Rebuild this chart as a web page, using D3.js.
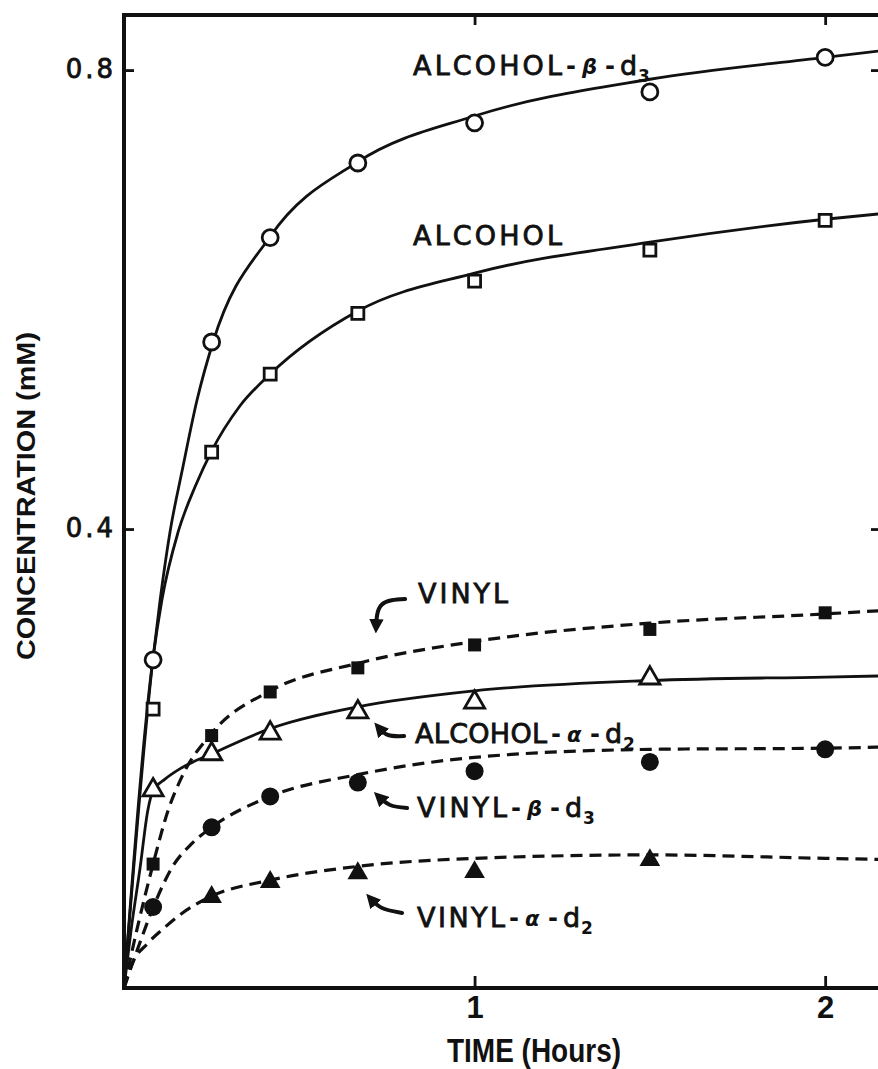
<!DOCTYPE html>
<html>
<head>
<meta charset="utf-8">
<script src="https://cdn.jsdelivr.net/npm/d3@7"></script>
<style>
  body { margin: 0; background: #fff; overflow: hidden; }
  svg { display: block; }
</style>
</head>
<body>
<script>
// measured points (hours, mM)
const times = [0.083, 0.25, 0.417, 0.667, 1, 1.5, 2];
const alcoholBetaD3 = [0.286, 0.563, 0.654, 0.719, 0.754, 0.781, 0.811];
const alcohol = [0.243, 0.467, 0.535, 0.588, 0.616, 0.643, 0.669];
const vinyl = [0.108, 0.220, 0.258, 0.279, 0.299, 0.3125, 0.327];
const vinylBetaD3 = [0.0706, 0.140, 0.167, 0.179, 0.189, 0.197, 0.208];
const alcAlphaTimes = [0.083, 0.25, 0.417, 0.667, 1, 1.5];
const alcoholAlphaD2 = [0.1725, 0.204, 0.222, 0.2405, 0.249, 0.270];
const vinAlphaTimes = [0.25, 0.417, 0.667, 1, 1.5];
const vinylAlphaD2 = [0.0793, 0.0924, 0.100, 0.101, 0.1115];

// hand-drawn fit curves
const alcoholBetaFit = [[0,0],[0.083,0.288],[0.103,0.338],[0.131,0.397],[0.168,0.454],[0.208,0.512],[0.254,0.563],[0.417,0.655],[0.667,0.72],[1,0.76],[1.5,0.792],[2,0.811],[2.165,0.817]];
const alcoholFit = [[0,0],[0.083,0.288],[0.108,0.338],[0.154,0.397],[0.203,0.437],[0.25,0.468],[0.33,0.507],[0.417,0.535],[0.667,0.59],[1,0.623],[1.5,0.65],[2,0.67],[2.165,0.675]];
const alcoholAlphaFit = [[0,0],[0.02,0.05],[0.046,0.105],[0.068,0.155],[0.083,0.172],[0.117,0.182],[0.165,0.192],[0.25,0.204],[0.417,0.226],[0.667,0.245],[1,0.259],[1.5,0.268],[2,0.271],[2.165,0.272]];
const vinylFit = [[0,0],[0.04,0.055],[0.083,0.108],[0.126,0.155],[0.165,0.184],[0.25,0.222],[0.417,0.259],[0.667,0.283],[1,0.302],[1.5,0.318],[2,0.326],[2.165,0.329]];
const vinylBetaFit = [[0,0],[0.04,0.035],[0.083,0.07],[0.137,0.105],[0.194,0.126],[0.25,0.14],[0.417,0.167],[0.667,0.186],[1,0.201],[1.5,0.208],[2,0.209],[2.165,0.21]];
const vinylAlphaFit = [[0,0],[0.023,0.021],[0.068,0.039],[0.117,0.053],[0.165,0.065],[0.25,0.08],[0.417,0.094],[0.667,0.106],[1,0.113],[1.5,0.116],[2,0.113],[2.165,0.112]];

const xTicks = [1, 2];
const yTicks = [0.4, 0.8];

// curve labels and arrows, placed in data units
const labels = [
  { word: "ALCOHOL", greek: "β", sub: "3", t: 0.8245, c: 0.7956, w: 149 },
  { word: "ALCOHOL", t: 0.8245, c: 0.6475, w: 149 },
  { word: "VINYL", t: 0.8388, c: 0.3355, w: 90 },
  { word: "ALCOHOL", greek: "α", sub: "2", t: 0.8302, c: 0.2135, w: 132 },
  { word: "VINYL", greek: "β", sub: "3", t: 0.836, c: 0.149, w: 90 },
  { word: "VINYL", greek: "α", sub: "2", t: 0.836, c: 0.0532, w: 88 }
];
const arrows = [
  [[0.802, 0.339], [0.735, 0.334], [0.719, 0.314]],
  [[0.799, 0.2196], [0.7532, 0.2205], [0.7247, 0.2275]],
  [[0.8074, 0.1569], [0.7589, 0.1595], [0.7247, 0.1673]],
  [[0.7932, 0.0654], [0.7361, 0.0697], [0.7019, 0.0784]]
];

const W = 878, H = 1069;
const svg = d3.select("body").append("svg").attr("width", W).attr("height", H);

const x = d3.scaleLinear().domain([0, 2.165]).range([124, 883]);
const y = d3.scaleLinear().domain([0, 0.848]).range([988, 15]);

const ink = "#111";
const labelFont = "'DejaVu Sans', sans-serif";
const titleFont = "'Liberation Sans', Arial, sans-serif";

// frame
svg.append("rect")
  .attr("x", x(0)).attr("y", y(0.848))
  .attr("width", x(2.165) - x(0)).attr("height", y(0) - y(0.848))
  .attr("fill", "none").attr("stroke", ink).attr("stroke-width", 4);

// ticks on all four sides, pointing inward
const axLeft = svg.append("g").attr("transform", `translate(${x(0)},0)`)
  .call(d3.axisLeft(y).tickValues(yTicks).tickSizeInner(-10).tickSizeOuter(0).tickPadding(8).tickFormat(d3.format(".1f")));
const axRight = svg.append("g").attr("transform", `translate(${x(2.165)},0)`)
  .call(d3.axisRight(y).tickValues(yTicks).tickSizeInner(-12).tickSizeOuter(0).tickFormat(""));
const axBottom = svg.append("g").attr("transform", `translate(0,${y(0)})`)
  .call(d3.axisBottom(x).tickValues(xTicks).tickSizeInner(-12).tickSizeOuter(0).tickPadding(8).tickFormat(d3.format("d")));
const axTop = svg.append("g").attr("transform", `translate(0,${y(0.848)})`)
  .call(d3.axisTop(x).tickValues(xTicks).tickSizeInner(-10).tickSizeOuter(0).tickFormat(""));

[axLeft, axRight, axBottom, axTop].forEach(g => {
  g.select(".domain").remove();
  g.selectAll(".tick line").attr("stroke", ink).attr("stroke-width", 2.8);
});
axLeft.selectAll(".tick text")
  .attr("font-family", labelFont).attr("font-size", 26).attr("letter-spacing", 3)
  .attr("fill", ink).attr("stroke", ink).attr("stroke-width", 0.8)
  .attr("dy", "0.3em");
axBottom.selectAll(".tick text")
  .attr("font-family", titleFont).attr("font-weight", "bold").attr("font-size", 31)
  .attr("fill", ink);

// axis titles
svg.append("text")
  .attr("x", 447).attr("y", 1062)
  .attr("font-family", titleFont).attr("font-weight", "bold").attr("font-size", 34)
  .attr("textLength", 174).attr("lengthAdjust", "spacingAndGlyphs")
  .attr("fill", ink)
  .text("TIME (Hours)");

svg.append("text")
  .attr("transform", "translate(35,496) rotate(-90)")
  .attr("text-anchor", "middle")
  .attr("font-family", titleFont).attr("font-weight", "bold").attr("font-size", 25)
  .attr("textLength", 328).attr("lengthAdjust", "spacingAndGlyphs")
  .attr("fill", ink)
  .text("CONCENTRATION (mM)");

// fitted curves
const line = d3.line().x(d => x(d[0])).y(d => y(d[1])).curve(d3.curveMonotoneX);
const curves = [
  { data: alcoholBetaFit, dash: null },
  { data: alcoholFit, dash: null },
  { data: alcoholAlphaFit, dash: null },
  { data: vinylFit, dash: "12,7" },
  { data: vinylBetaFit, dash: "12,7" },
  { data: vinylAlphaFit, dash: "12,7" }
];
curves.forEach(c => {
  svg.append("path")
    .attr("d", line(c.data))
    .attr("fill", "none")
    .attr("stroke", ink)
    .attr("stroke-width", c.dash ? 3.2 : 2.8)
    .attr("stroke-dasharray", c.dash);
});

// data markers
const series = [
  { ts: times, vs: alcoholBetaD3, type: d3.symbolCircle, size: 201, filled: false },
  { ts: times, vs: alcohol, type: d3.symbolSquare, size: 144, filled: false },
  { ts: times, vs: vinyl, type: d3.symbolSquare, size: 169, filled: true },
  { ts: alcAlphaTimes, vs: alcoholAlphaD2, type: d3.symbolTriangle, size: 175, filled: false },
  { ts: times, vs: vinylBetaD3, type: d3.symbolCircle, size: 254, filled: true },
  { ts: vinAlphaTimes, vs: vinylAlphaD2, type: d3.symbolTriangle, size: 185, filled: true }
];
series.forEach(s => {
  svg.append("g").selectAll("path")
    .data(s.ts.map((t, i) => [t, s.vs[i]]))
    .join("path")
    .attr("transform", d => `translate(${x(d[0])},${y(d[1])})`)
    .attr("d", d3.symbol().type(s.type).size(s.size))
    .attr("fill", s.filled ? ink : "#fff")
    .attr("stroke", ink)
    .attr("stroke-width", s.filled ? 0 : 2.8);
});

// arrows
svg.append("defs").append("marker")
  .attr("id", "head")
  .attr("viewBox", "0 0 10 10")
  .attr("refX", 6).attr("refY", 5)
  .attr("markerWidth", 3.6).attr("markerHeight", 3.6)
  .attr("orient", "auto")
  .append("path").attr("d", "M0,0L10,5L0,10Z").attr("fill", ink);

const arrowLine = d3.line().x(d => x(d[0])).y(d => y(d[1])).curve(d3.curveNatural);
arrows.forEach(a => {
  svg.append("path")
    .attr("d", arrowLine(a))
    .attr("fill", "none")
    .attr("stroke", ink)
    .attr("stroke-width", 4)
    .attr("stroke-linecap", "round")
    .attr("marker-end", "url(#head)");
});

// curve labels
labels.forEach(a => {
  const g = svg.append("g").attr("fill", ink).attr("font-family", labelFont);
  const x0 = x(a.t), y0 = y(a.c);
  g.append("text")
    .attr("x", x0).attr("y", y0)
    .attr("font-size", 27)
    .attr("stroke", ink).attr("stroke-width", 0.8)
    .attr("textLength", a.w).attr("lengthAdjust", "spacing")
    .text(a.word);
  if (!a.greek) return;
  const xe = x0 + a.w;
  g.append("text").attr("x", xe + 4).attr("y", y0 - 1)
    .attr("font-size", 24).attr("font-weight", "bold").text("-");
  g.append("text").attr("x", xe + 20).attr("y", y0 - 1)
    .attr("font-size", 21).attr("font-weight", "bold").attr("font-style", "italic")
    .text(a.greek);
  g.append("text").attr("x", xe + 43).attr("y", y0 - 1)
    .attr("font-size", 24).attr("font-weight", "bold").text("-");
  g.append("text").attr("x", xe + 58).attr("y", y0)
    .attr("font-size", 27).attr("stroke", ink).attr("stroke-width", 0.8).text("d");
  g.append("text").attr("x", xe + 76).attr("y", y0 + 7)
    .attr("font-size", 17).attr("font-weight", "bold").text(a.sub);
});
</script>
</body>
</html>
